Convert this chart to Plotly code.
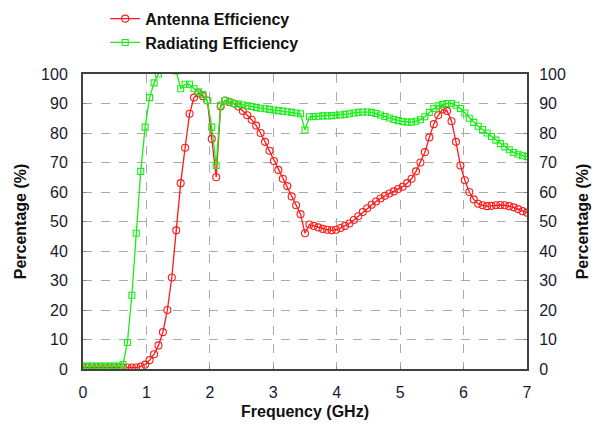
import plotly.graph_objects as go

# frequency grid (GHz), step 0.07
freq = [round(i * 0.07, 2) for i in range(101)]

antenna_eff = [
    0.5, 0.5, 0.5, 0.5, 0.5, 0.5, 0.5, 0.5, 0.5, 0.5,
    0.5, 0.5, 0.5, 0.8, 1.5, 3, 5, 8, 12.5, 20,
    31, 47, 63, 75, 86.5, 92, 93.5, 92.5, 91, 78,
    65, 89, 91, 90.5, 90, 89, 87.5, 86, 84.5, 82.5,
    80, 77, 74, 70.5, 67.5, 64.5, 62, 58.5, 55.5, 52.5,
    46, 49, 48.5, 48, 47.5, 47.2, 47, 47.2, 47.8, 48.5,
    49.3, 50.5, 51.8, 53.2, 54.5, 55.7, 56.8, 57.8, 58.7, 59.5,
    60.2, 61, 61.8, 63, 64.5, 67, 70, 73.5, 78.5, 83,
    86, 88, 87.5, 84, 77, 69, 64, 60, 57.5, 56,
    55.5, 55.2, 55.3, 55.5, 55.6, 55.5, 55.2, 54.8, 54.2, 53.5,
    53,
]

radiating_eff = [
    1, 1, 1, 1, 1, 1, 1, 1, 1, 1.5,
    9, 25, 46, 67, 82, 92, 97, 100, 103, 105,
    104, 101, 95, 96.5, 96.5, 95, 94, 93, 91, 82,
    69, 89.5, 91, 90.5, 90, 89.8, 89.5, 89.2, 89, 88.7,
    88.4, 88.2, 88, 87.8, 87.6, 87.4, 87.2, 87, 86.8, 86.5,
    81, 85.5, 85.6, 85.7, 85.8, 85.8, 85.9, 86, 86.1, 86.3,
    86.5, 86.8, 87, 87.1, 87.1, 87, 86.6, 86.1, 85.6, 85.1,
    84.6, 84.2, 83.9, 83.7, 83.7, 84, 84.5, 85.5, 87, 88.3,
    89.2, 89.7, 90, 90, 89.4, 88.3, 86.8, 85, 83.6, 82.3,
    81.2, 80, 78.8, 77.6, 76.4, 75.3, 74.3, 73.4, 72.8, 72.3,
    72,
]

x_ticks = [0, 1, 2, 3, 4, 5, 6, 7]
y_ticks = [0, 10, 20, 30, 40, 50, 60, 70, 80, 90, 100]

FONT = "Liberation Sans, Arial, sans-serif"
AXIS_COLOR = "#404040"
RED = "#ff1a1a"
GREEN = "#1aee1a"

fig = go.Figure()

fig.add_trace(go.Scatter(
    x=freq, y=antenna_eff, name="Antenna Efficiency",
    mode="lines+markers",
    line=dict(color=RED, width=1.3),
    marker=dict(symbol="circle-open", size=7, color=RED, line=dict(width=1.1)),
))

fig.add_trace(go.Scatter(
    x=freq, y=radiating_eff, name="Radiating Efficiency",
    mode="lines+markers",
    line=dict(color=GREEN, width=1.3),
    marker=dict(symbol="square-open", size=6, color=GREEN, line=dict(width=1.1)),
))

# invisible trace so the right axis is drawn
fig.add_trace(go.Scatter(
    x=[0], y=[0], yaxis="y2", mode="markers",
    marker=dict(opacity=0), showlegend=False, hoverinfo="skip",
))

axis_common = dict(
    showline=True, linecolor=AXIS_COLOR, linewidth=2,
    ticks="inside", ticklen=3, tickcolor="#888888",
    tickfont=dict(family=FONT, size=16, color="#1a1a2e"),
    zeroline=False,
)
title_font = dict(family=FONT, size=16, weight="bold", color="#111111")

# the page body adds an 8px offset, margins are set with that in mind
fig.update_layout(
    width=600, height=425,
    margin=dict(l=75, r=81, t=66, b=64, autoexpand=False),
    paper_bgcolor="white", plot_bgcolor="white",
    font=dict(family=FONT, color="#111111"),
    showlegend=True,
    legend=dict(
        x=0.05, y=1.245, xanchor="left", yanchor="top",
        font=dict(family=FONT, size=16, color="#111111", weight="bold"),
        bgcolor="rgba(0,0,0,0)", tracegroupgap=0,
    ),
    xaxis=dict(
        range=[0, 7], tickvals=x_ticks, mirror=True, ticklabelstandoff=8,
        showgrid=True, gridcolor="#aaaaaa", griddash="dash", gridwidth=1.2,
        title=dict(text="Frequency (GHz)", standoff=6, font=title_font),
        **axis_common,
    ),
    yaxis=dict(
        range=[0, 100], tickvals=y_ticks, mirror=True, ticklabelstandoff=10,
        showgrid=True, gridcolor="#aaaaaa", griddash="dash", gridwidth=1.2,
        title=dict(text="Percentage (%)", standoff=10, font=title_font),
        **axis_common,
    ),
    yaxis2=dict(
        range=[0, 100], tickvals=y_ticks, overlaying="y", side="right",
        showgrid=False, ticklabelstandoff=7,
        title=dict(text="Percentage (%)", standoff=12, font=title_font),
        **axis_common,
    ),
)

fig.write_html("out.html")
